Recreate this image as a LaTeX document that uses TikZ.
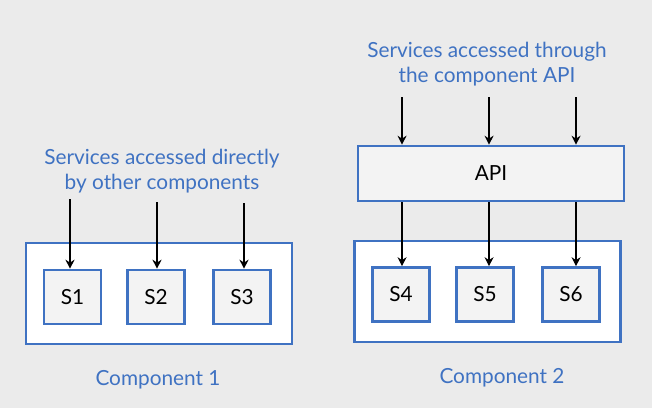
\documentclass[tikz,border=0pt]{standalone}
\usepackage{fontspec}
\setmainfont{Lato}
\usetikzlibrary{arrows.meta}
\definecolor{compblue}{HTML}{3F72C2}
\definecolor{backgray}{HTML}{EBEBEB}
\definecolor{boxgray}{HTML}{F3F3F3}
\begin{document}
\begin{tikzpicture}[x=1pt, y=-1pt]
            \tikzstyle{every node}=[font=\fontsize{20.8}{25}\selectfont, inner sep=0pt]
            \tikzstyle{component}=[draw=compblue, fill=white, line width=2.6pt, minimum width=266pt, minimum height=101pt]
            \tikzstyle{service}=[draw=compblue, fill=boxgray, line width=2.6pt, minimum width=57pt, minimum height=54pt, text=black]
            \tikzstyle{caption}=[text=compblue, align=center]
            \tikzstyle{access}=[black, line width=1.8pt, -{Stealth[length=9pt, width=9pt]}]
            \tikzstyle{call}=[black, line width=1.1pt, -{Stealth[length=9pt, width=9pt]}]

            \fill[backgray] (0,0) rectangle (652,408);

            % component 1: direct access
            \node[component] (c1) at (159,293.5) {};
            \node[service] (s1) at (72.5,297) {S1};
            \node[service] (s2) at (156,297) {S2};
            \node[service] (s3) at (242,297) {S3};
            \node[caption] (direct) at (162,171) {Services accessed directly\\by other components};
            \node[caption] (name1) at (158,380) {Component 1};

            \coordinate (d1) at (70,199);
            \coordinate (d2) at (157,202);
            \coordinate (d3) at (244,203);
            \draw[access] (d1) -- (d1 |- s1.north);
            \draw[access] (d2) -- (d2 |- s2.north);
            \draw[access] (d3) -- (d3 |- s3.north);

            % component 2: access through the API
            \node[component] (c2) at (487.5,291.5) {};
            \node[service] (s4) at (401,294.5) {S4};
            \node[service] (s5) at (485,294.5) {S5};
            \node[service] (s6) at (571,294.5) {S6};
            \node[service, minimum width=266pt, minimum height=55pt] (api) at (491,173.5) {API};
            \node[caption] (through) at (487,64) {Services accessed through\\the component API};
            \node[caption] (name2) at (502,378) {Component 2};

            \coordinate (a1) at (402,97);
            \coordinate (a2) at (489,97);
            \coordinate (a3) at (576,97);
            \draw[call] (a1) -- (a1 |- api.north);
            \draw[call] (a2) -- (a2 |- api.north);
            \draw[call] (a3) -- (a3 |- api.north);
            \draw[call] (a1 |- api.south) -- (a1 |- s4.north);
            \draw[call] (a2 |- api.south) -- (a2 |- s5.north);
            \draw[call] (a3 |- api.south) -- (a3 |- s6.north);
\end{tikzpicture}
\end{document}
